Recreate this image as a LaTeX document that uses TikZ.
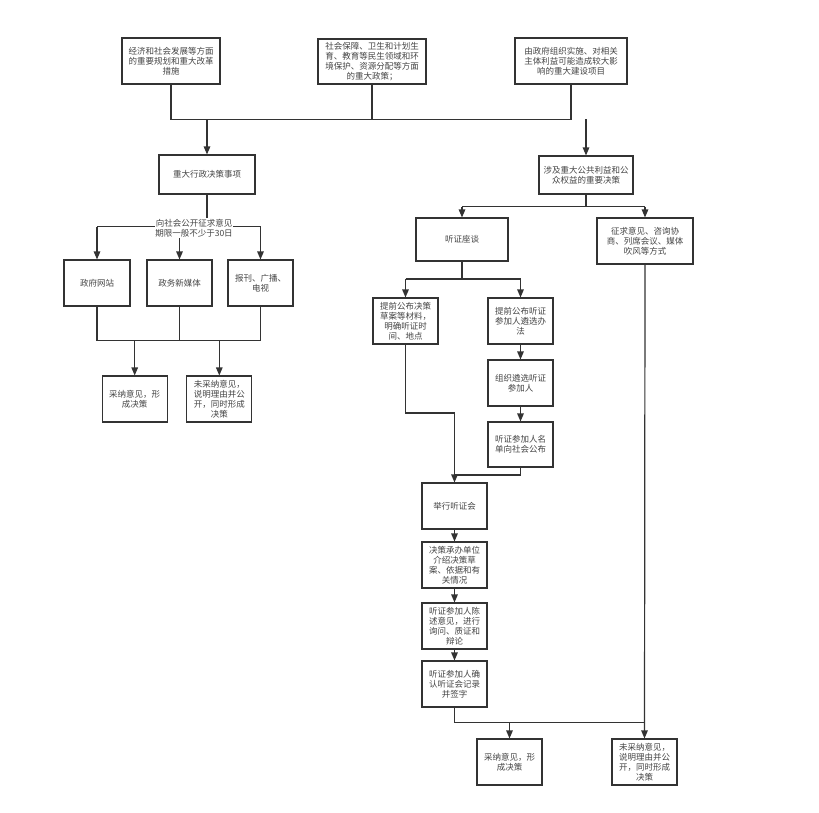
\documentclass[tikz,border=0pt]{standalone}
\usepackage{fontspec}
\setmainfont{Noto Sans CJK SC}
\usetikzlibrary{arrows.meta}
\definecolor{lncol}{HTML}{333333}
\definecolor{txcol}{HTML}{444444}
\begin{document}
\begin{tikzpicture}[x=1pt,y=-1pt,
  box/.style={draw=lncol, line width=1.1pt, fill=white, inner sep=0pt, align=center,
    font=\fontsize{8.5}{10}\selectfont, text=txcol},
  wh/.style 2 args={minimum width=#1pt, minimum height=#2pt},
  wire/.style={draw=lncol, line width=1.2pt},
  arr/.style={wire, -{Triangle[length=8pt,width=6.5pt]}},
  lbl/.style={fill=white, inner sep=0.6pt, align=center, font=\fontsize{8.5}{10.5}\selectfont, text=txcol},
]
\useasboundingbox[fill=white] (0,0) rectangle (819,812);

% top row
\node[box, wh={98}{46}]  (b1) at (171,61)   {经济和社会发展等方面\\的重要规划和重大改革\\措施};
\node[box, wh={108}{45}] (b2) at (372,61.5) {社会保障、卫生和计划生\\育、教育等民生领域和环\\境保护、资源分配等方面\\的重大政策；};
\node[box, wh={112}{46}] (b3) at (571,61)   {由政府组织实施、对相关\\主体利益可能造成较大影\\响的重大建设项目};

\node[box, wh={96}{39}] (b4) at (207,174.5) {重大行政决策事项};
\node[box, wh={94}{38}] (b5) at (586,175)   {涉及重大公共利益和公\\众权益的重要决策};

% left branch
\node[box, wh={66}{46}] (b6) at (97,283)    {政府网站};
\node[box, wh={65}{46}] (b7) at (179.5,283) {政务新媒体};
\node[box, wh={65}{46}] (b8) at (260.5,283) {报刊、广播、\\电视};
\node[box, wh={65}{46}] (b9) at (134.7,399) {采纳意见，形\\成决策};
\node[box, wh={65}{46}] (b10) at (219.3,399) {未采纳意见，\\说明理由并公\\开，同时形成\\决策};

% right branch
\node[box, wh={92}{43}] (b11) at (462,239.5) {听证座谈};
\node[box, wh={96}{46}] (b12) at (645,241)   {征求意见、咨询协\\商、列席会议、媒体\\吹风等方式};
\node[box, wh={65}{46}] (b13) at (405.5,321) {提前公布决策\\草案等材料，\\明确听证时\\间、地点};
\node[box, wh={65}{46}] (b14) at (520.5,321) {提前公布听证\\参加人遴选办\\法};
\node[box, wh={65}{46}] (b15) at (520.5,383) {组织遴选听证\\参加人};
\node[box, wh={65}{45}] (b16) at (520.5,444.5) {听证参加人名\\单向社会公布};
\node[box, wh={65}{46}] (b17) at (454.5,506) {举行听证会};
\node[box, wh={65}{46}] (b18) at (454.5,565) {决策承办单位\\介绍决策草\\案、依据和有\\关情况};
\node[box, wh={65}{46}] (b19) at (454.5,626) {听证参加人陈\\述意见，进行\\询问、质证和\\辩论};
\node[box, wh={65}{46}] (b20) at (454.5,684) {听证参加人确\\认听证会记录\\并签字};
\node[box, wh={65}{46}] (b21) at (509.5,762) {采纳意见，形\\成决策};
\node[box, wh={65}{46}] (b22) at (644.5,762) {未采纳意见，\\说明理由并公\\开，同时形成\\决策};

% helper levels
\coordinate (h0) at (0,119.3);
\coordinate (h1) at (0,226.7);
\coordinate (h2) at (0,340.7);
\coordinate (h3) at (0,206.7);
\coordinate (h4) at (0,279);
\coordinate (h5) at (0,413);
\coordinate (h6) at (0,475);
\coordinate (h7) at (0,722.7);

% top connectors
\draw[wire] (b1.south) -- (b1.south |- h0) -- (b3.south |- h0) -- (b3.south);
\draw[wire] (b2.south) -- (b2.south |- h0);
\draw[arr] (b4.north |- h0) -- (b4.north);
\draw[arr] (b5.north |- h0) -- (b5.north);

% left connectors
\draw[wire] (b4.south) -- (b4.south |- h1);
\draw[wire] (b6.north |- h1) -- (b8.north |- h1);
\draw[arr] (b6.north |- h1) -- (b6.north);
\draw[arr] (b7.north |- h1) -- (b7.north);
\draw[arr] (b8.north |- h1) -- (b8.north);
\node[lbl] (lab) at (194,228) {向社会公开征求意见\\期限一般不少于30日};
\draw[wire] (b6.south) -- (b6.south |- h2) -- (b8.south |- h2) -- (b8.south);
\draw[wire] (b7.south) -- (b7.south |- h2);
\draw[arr] (b9.north |- h2) -- (b9.north);
\draw[arr] (b10.north |- h2) -- (b10.north);

% right connectors
\draw[wire] (b5.south) -- (b5.south |- h3);
\draw[wire] (b11.north |- h3) -- (b12.north |- h3);
\draw[arr] (b11.north |- h3) -- (b11.north);
\draw[arr] (b12.north |- h3) -- (b12.north);
\draw[wire] (b11.south) -- (b11.south |- h4);
\draw[wire] (b13.north |- h4) -- (b14.north |- h4);
\draw[arr] (b13.north |- h4) -- (b13.north);
\draw[arr] (b14.north |- h4) -- (b14.north);
\draw[arr] (b14.south) -- (b15.north);
\draw[arr] (b15.south) -- (b16.north);
\draw[wire] (b13.south) -- (b13.south |- h5) -- (b17.north |- h5);
\draw[wire] (b16.south) -- (b16.south |- h6) -- (b17.north |- h6);
\draw[arr] (b17.north |- h5) -- (b17.north);
\draw[arr] (b17.south) -- (b18.north);
\draw[arr] (b18.south) -- (b19.north);
\draw[arr] (b19.south) -- (b20.north);
\draw[wire] (b20.south) -- (b20.south |- h7) -- (b22.north |- h7);
\draw[arr] (b21.north |- h7) -- (b21.north);
\draw[arr] (b12.south) -- (b22.north);
\end{tikzpicture}
\end{document}
